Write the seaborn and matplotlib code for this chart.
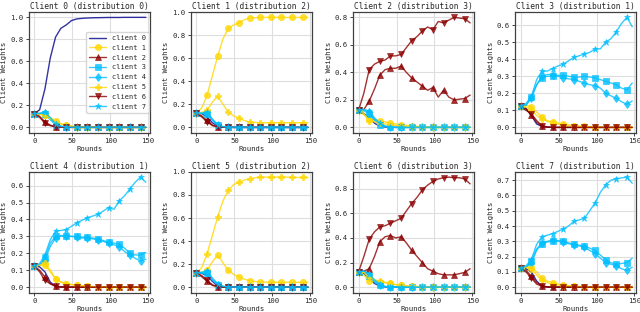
import matplotlib
matplotlib.use("Agg")
import matplotlib.pyplot as plt
import seaborn as sns

# rounds sampled every 7 (markers every 14)
rounds = list(range(0, 148, 7))
client_names = [f"client {i}" for i in range(8)]
titles = ["Client 0 (distribution 0)", "Client 1 (distribution 2)",
          "Client 2 (distribution 3)", "Client 3 (distribution 1)",
          "Client 4 (distribution 1)", "Client 5 (distribution 2)",
          "Client 6 (distribution 3)", "Client 7 (distribution 1)"]
colors = ["darkblue", "gold", "darkred", "deepskyblue",
          "deepskyblue", "gold", "darkred", "deepskyblue"]
markers = ["", "o", "^", "s", "d", "P", "v", "*"]

# weights seen by each client, one list per client 0..7
w_client0 = [
    [0.125, 0.16, 0.35, 0.63, 0.82, 0.90, 0.93, 0.97, 0.985, 0.99, 0.993, 0.995, 0.996, 0.997, 0.998, 0.998, 0.998, 0.999, 0.999, 0.999, 0.999, 0.999],
    [0.125, 0.12, 0.11, 0.09, 0.06, 0.035, 0.02, 0.01, 0.005, 0.003, 0.002, 0.001, 0.001] + [0.0] * 9,
    [0.125, 0.10, 0.05, 0.02, 0.008, 0.003, 0.001] + [0.0] * 15,
    [0.125, 0.12, 0.12, 0.07, 0.025, 0.008, 0.003, 0.001] + [0.0] * 14,
    [0.125, 0.125, 0.13, 0.08, 0.03, 0.01, 0.003, 0.001] + [0.0] * 14,
    [0.125, 0.12, 0.11, 0.08, 0.05, 0.03, 0.02, 0.01, 0.005, 0.003, 0.002, 0.001] + [0.0] * 10,
    [0.125, 0.09, 0.04, 0.015, 0.005, 0.002, 0.001] + [0.0] * 15,
    [0.125, 0.13, 0.14, 0.09, 0.035, 0.01, 0.004, 0.001] + [0.0] * 14,
]
w_client1 = [
    [0.125, 0.12, 0.09, 0.04, 0.01, 0.003, 0.001] + [0.0] * 15,
    [0.125, 0.17, 0.28, 0.45, 0.62, 0.77, 0.86, 0.89, 0.91, 0.935, 0.95, 0.953, 0.955, 0.956, 0.956, 0.956, 0.955, 0.955, 0.955, 0.955, 0.955, 0.955],
    [0.125, 0.10, 0.06, 0.02, 0.005, 0.001] + [0.0] * 16,
    [0.125, 0.12, 0.12, 0.06, 0.02, 0.005, 0.001] + [0.0] * 15,
    [0.125, 0.125, 0.13, 0.07, 0.02, 0.005, 0.001] + [0.0] * 15,
    [0.125, 0.13, 0.15, 0.22, 0.27, 0.20, 0.13, 0.10, 0.08, 0.06, 0.046, 0.043, 0.041, 0.041, 0.041, 0.041, 0.041, 0.041, 0.041, 0.041, 0.041, 0.041],
    [0.125, 0.09, 0.05, 0.015, 0.004, 0.001] + [0.0] * 16,
    [0.125, 0.125, 0.135, 0.07, 0.025, 0.006, 0.001] + [0.0] * 15,
]
w_client2 = [
    [0.125, 0.10, 0.07, 0.03, 0.01, 0.003, 0.001] + [0.0] * 15,
    [0.125, 0.09, 0.06, 0.055, 0.05, 0.04, 0.03, 0.025, 0.02, 0.015, 0.01, 0.008, 0.006, 0.004, 0.003, 0.002, 0.002, 0.001, 0.001, 0.001, 0.001, 0.001],
    [0.125, 0.13, 0.19, 0.28, 0.38, 0.42, 0.43, 0.43, 0.445, 0.40, 0.36, 0.33, 0.30, 0.27, 0.29, 0.22, 0.27, 0.22, 0.20, 0.205, 0.21, 0.235],
    [0.125, 0.12, 0.10, 0.05, 0.02, 0.005, 0.001] + [0.0] * 15,
    [0.125, 0.13, 0.11, 0.06, 0.025, 0.008, 0.002] + [0.0] * 15,
    [0.125, 0.10, 0.05, 0.04, 0.03, 0.025, 0.02, 0.015, 0.01, 0.008, 0.005, 0.003, 0.002, 0.001] + [0.0] * 8,
    [0.125, 0.25, 0.42, 0.46, 0.48, 0.49, 0.52, 0.52, 0.53, 0.58, 0.63, 0.66, 0.70, 0.73, 0.71, 0.77, 0.76, 0.78, 0.80, 0.795, 0.79, 0.76],
    [0.125, 0.13, 0.12, 0.07, 0.03, 0.01, 0.003] + [0.0] * 15,
]
w_client3 = [
    [0.125, 0.11, 0.07, 0.02, 0.005, 0.001] + [0.0] * 16,
    [0.125, 0.13, 0.12, 0.09, 0.06, 0.04, 0.03, 0.025, 0.02, 0.015, 0.01, 0.008, 0.006, 0.004, 0.003, 0.002, 0.001] + [0.0] * 5,
    [0.125, 0.11, 0.07, 0.03, 0.008, 0.002] + [0.0] * 16,
    [0.125, 0.13, 0.18, 0.25, 0.29, 0.30, 0.30, 0.305, 0.305, 0.30, 0.295, 0.295, 0.30, 0.295, 0.29, 0.28, 0.27, 0.26, 0.25, 0.23, 0.22, 0.26],
    [0.125, 0.13, 0.17, 0.25, 0.30, 0.31, 0.31, 0.30, 0.29, 0.285, 0.28, 0.27, 0.26, 0.25, 0.245, 0.23, 0.20, 0.185, 0.17, 0.15, 0.135, 0.155],
    [0.125, 0.12, 0.10, 0.07, 0.05, 0.035, 0.025, 0.02, 0.015, 0.01, 0.007, 0.005, 0.003, 0.002, 0.001] + [0.0] * 7,
    [0.125, 0.10, 0.08, 0.04, 0.01, 0.002] + [0.0] * 16,
    [0.125, 0.14, 0.18, 0.28, 0.33, 0.33, 0.345, 0.36, 0.37, 0.39, 0.41, 0.42, 0.43, 0.44, 0.46, 0.46, 0.50, 0.52, 0.56, 0.61, 0.645, 0.59],
]
w_client4 = [
    [0.125, 0.12, 0.09, 0.03, 0.005, 0.001] + [0.0] * 16,
    [0.125, 0.13, 0.13, 0.09, 0.05, 0.03, 0.02, 0.015, 0.01, 0.008, 0.005, 0.003, 0.002, 0.001] + [0.0] * 8,
    [0.125, 0.10, 0.06, 0.02, 0.005, 0.001] + [0.0] * 16,
    [0.125, 0.13, 0.17, 0.26, 0.30, 0.305, 0.305, 0.30, 0.30, 0.295, 0.295, 0.29, 0.285, 0.275, 0.265, 0.26, 0.255, 0.23, 0.20, 0.19, 0.19, 0.205],
    [0.125, 0.13, 0.16, 0.24, 0.29, 0.30, 0.30, 0.30, 0.295, 0.29, 0.29, 0.285, 0.28, 0.27, 0.26, 0.25, 0.24, 0.21, 0.19, 0.17, 0.155, 0.165],
    [0.125, 0.13, 0.14, 0.10, 0.05, 0.03, 0.02, 0.015, 0.01, 0.008, 0.005, 0.003, 0.002, 0.001] + [0.0] * 8,
    [0.125, 0.09, 0.04, 0.02, 0.005, 0.001] + [0.0] * 16,
    [0.125, 0.14, 0.19, 0.28, 0.33, 0.335, 0.34, 0.36, 0.38, 0.395, 0.41, 0.42, 0.43, 0.45, 0.47, 0.46, 0.51, 0.54, 0.58, 0.62, 0.65, 0.62],
]
w_client5 = [
    [0.125, 0.12, 0.10, 0.05, 0.01, 0.002] + [0.0] * 16,
    [0.125, 0.13, 0.15, 0.22, 0.28, 0.21, 0.15, 0.11, 0.09, 0.07, 0.055, 0.05, 0.045, 0.043, 0.042, 0.042, 0.042, 0.042, 0.042, 0.042, 0.042, 0.042],
    [0.125, 0.09, 0.05, 0.015, 0.003] + [0.0] * 17,
    [0.125, 0.12, 0.12, 0.06, 0.02, 0.005, 0.001] + [0.0] * 15,
    [0.125, 0.125, 0.13, 0.07, 0.02, 0.005, 0.001] + [0.0] * 15,
    [0.125, 0.17, 0.29, 0.45, 0.61, 0.75, 0.84, 0.89, 0.91, 0.93, 0.94, 0.95, 0.955, 0.955, 0.955, 0.955, 0.955, 0.955, 0.952, 0.952, 0.952, 0.952],
    [0.125, 0.10, 0.06, 0.02, 0.005, 0.001] + [0.0] * 16,
    [0.125, 0.13, 0.14, 0.08, 0.03, 0.008, 0.001] + [0.0] * 15,
]
w_client6 = [
    [0.125, 0.11, 0.07, 0.03, 0.01, 0.002] + [0.0] * 16,
    [0.125, 0.10, 0.05, 0.05, 0.04, 0.035, 0.03, 0.02, 0.015, 0.01, 0.007, 0.005, 0.003, 0.002, 0.001] + [0.0] * 7,
    [0.125, 0.13, 0.15, 0.25, 0.37, 0.41, 0.42, 0.40, 0.41, 0.36, 0.30, 0.25, 0.20, 0.15, 0.13, 0.11, 0.10, 0.10, 0.10, 0.11, 0.12, 0.15],
    [0.125, 0.12, 0.09, 0.04, 0.015, 0.004, 0.001] + [0.0] * 15,
    [0.125, 0.13, 0.10, 0.05, 0.02, 0.005, 0.001] + [0.0] * 15,
    [0.125, 0.12, 0.08, 0.06, 0.05, 0.04, 0.03, 0.02, 0.015, 0.01, 0.007, 0.005, 0.003, 0.002, 0.001] + [0.0] * 7,
    [0.125, 0.25, 0.39, 0.45, 0.49, 0.50, 0.52, 0.54, 0.56, 0.62, 0.68, 0.73, 0.79, 0.83, 0.86, 0.88, 0.89, 0.895, 0.89, 0.89, 0.88, 0.84],
    [0.125, 0.13, 0.11, 0.06, 0.025, 0.006, 0.001] + [0.0] * 15,
]
w_client7 = [
    [0.125, 0.12, 0.10, 0.04, 0.005, 0.001] + [0.0] * 16,
    [0.125, 0.13, 0.13, 0.10, 0.06, 0.04, 0.03, 0.02, 0.015, 0.01, 0.008, 0.005, 0.003, 0.002, 0.001] + [0.0] * 7,
    [0.125, 0.11, 0.07, 0.03, 0.01, 0.002] + [0.0] * 16,
    [0.125, 0.13, 0.17, 0.25, 0.285, 0.295, 0.30, 0.305, 0.305, 0.29, 0.28, 0.275, 0.27, 0.255, 0.24, 0.21, 0.18, 0.16, 0.15, 0.155, 0.16, 0.19],
    [0.125, 0.13, 0.16, 0.24, 0.29, 0.30, 0.31, 0.30, 0.295, 0.285, 0.275, 0.27, 0.26, 0.24, 0.22, 0.19, 0.16, 0.15, 0.14, 0.12, 0.11, 0.13],
    [0.125, 0.13, 0.12, 0.08, 0.045, 0.03, 0.02, 0.015, 0.01, 0.008, 0.005, 0.003, 0.002, 0.001] + [0.0] * 8,
    [0.125, 0.10, 0.06, 0.02, 0.005, 0.001] + [0.0] * 16,
    [0.125, 0.14, 0.18, 0.28, 0.33, 0.34, 0.35, 0.365, 0.38, 0.40, 0.43, 0.44, 0.45, 0.50, 0.55, 0.62, 0.67, 0.70, 0.71, 0.715, 0.72, 0.68],
]
panels = [w_client0, w_client1, w_client2, w_client3,
          w_client4, w_client5, w_client6, w_client7]

sns.set_style("whitegrid", {
    "axes.edgecolor": "0.25",
    "grid.color": "0.87",
    "xtick.bottom": True,
    "ytick.left": True,
})
plt.rcParams["font.family"] = ["DejaVu Sans Mono"]
plt.rcParams["axes.linewidth"] = 0.9
plt.rcParams["grid.linewidth"] = 0.8
plt.rcParams["xtick.major.size"] = 2.5
plt.rcParams["ytick.major.size"] = 2.5
plt.rcParams["xtick.major.width"] = 0.6
plt.rcParams["ytick.major.width"] = 0.6
plt.rcParams["xtick.major.pad"] = 1.5
plt.rcParams["ytick.major.pad"] = 1.5

fig, axes = plt.subplots(2, 4, figsize=(6.4, 3.12), dpi=100)
fig.subplots_adjust(left=0.045, right=0.994, top=0.962, bottom=0.062,
                    wspace=0.34, hspace=0.32)

for k, (ax, title, weights) in enumerate(zip(axes.flat, titles, panels)):
    for i, w in enumerate(weights):
        sns.lineplot(x=rounds, y=w, ax=ax, color=colors[i], marker=markers[i],
                     markevery=2, markersize=4.5, mec=colors[i], mew=0.5,
                     linewidth=1.0, alpha=0.8, label=client_names[i])
    leg = ax.get_legend()
    if leg is not None:
        leg.remove()
    ax.set_title(title, fontsize=5.7, pad=2)
    ax.set_xlabel("Rounds", fontsize=5.2, labelpad=1)
    ax.set_ylabel("Client Weights", fontsize=5.2, labelpad=2)
    ax.tick_params(labelsize=5.2)
    ax.set_xlim(-7.3, 152.2)
    ax.set_xticks([0, 50, 100, 150])
    if k == 0:
        ax.legend(loc="center right", fontsize=5.0, frameon=True,
                  handlelength=2.4, borderpad=0.45, labelspacing=0.55,
                  borderaxespad=0.15)

fig.savefig("out.png", dpi=100)
